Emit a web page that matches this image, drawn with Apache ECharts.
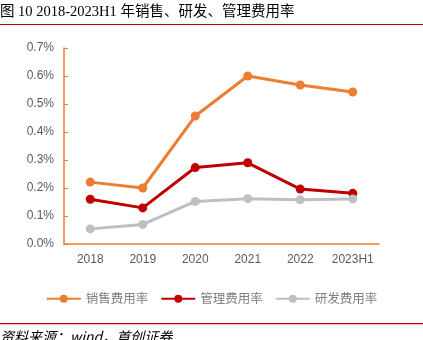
<!DOCTYPE html>
<html><head><meta charset="utf-8">
<script src="https://cdn.jsdelivr.net/npm/echarts@6/dist/echarts.min.js"></script>
<style>html,body{margin:0;padding:0;background:#fff;}#c{width:423px;height:340px;}</style>
</head><body><div id="c"></div>
<script>
var categories = ['2018','2019','2020','2021','2022','2023H1'];
var salesRate = [0.221, 0.200, 0.457, 0.600, 0.568, 0.543];
var adminRate = [0.160, 0.129, 0.273, 0.290, 0.196, 0.181];
var rdRate = [0.054, 0.070, 0.152, 0.162, 0.158, 0.161];
var seriesNames = ['销售费用率','管理费用率','研发费用率'];
var titleText = '图 10 2018-2023H1 年销售、研发、管理费用率';
var sourceText = '资料来源：wind，首创证券';

var chart = echarts.init(document.getElementById('c'));
var colors = ['#ED7D31','#C00000','#BFBFBF'];
function mk(name, data, color){
  return {name:name, type:'line', data:data, symbol:'circle', symbolSize:9,
    lineStyle:{width:3,color:color}, itemStyle:{color:color}};
}
chart.setOption({
  animation:false,
  graphic:[
    {type:'text', left:0, top:5, style:{text:titleText, font:'14.5px "Liberation Serif", "Noto Sans CJK SC"', fill:'#000'}},
    {type:'rect', shape:{x:0,y:24,width:423,height:1}, style:{fill:'#C00000'}},
    {type:'rect', shape:{x:0,y:323,width:423,height:1.2}, style:{fill:'#C00000'}},
    {type:'text', left:0, top:330, style:{text:sourceText, font:'italic 14px "Noto Sans CJK SC", serif', fill:'#000'}}
  ],
  legend:{bottom:30, left:'center', itemWidth:34, itemHeight:10, itemGap:12,
    textStyle:{color:'#7F7F7F', fontSize:12.5, fontFamily:'"Noto Sans CJK SC"'},
    data:seriesNames},
  grid:{left:64, right:44, top:48, bottom:96},
  xAxis:{type:'category', data:categories, boundaryGap:true,
    axisLine:{lineStyle:{color:'#ED7D31',width:1.5}},
    axisTick:{inside:true, length:3, lineStyle:{color:'#ED7D31'}},
    axisLabel:{interval:0, color:'#595959', fontSize:12, margin:10, fontFamily:'Arial, "Liberation Sans"'}},
  yAxis:{type:'value', min:0, max:0.7, interval:0.1,
    axisLine:{show:true, lineStyle:{color:'#ED7D31',width:1.5}},
    axisTick:{show:true, inside:true, length:4, lineStyle:{color:'#ED7D31'}},
    splitLine:{show:false},
    axisLabel:{color:'#595959', fontSize:12, margin:10, fontFamily:'Arial, "Liberation Sans"',
      formatter:function(v){return v.toFixed(1)+'%';}}},
  series:[mk(seriesNames[0], salesRate, colors[0]), mk(seriesNames[1], adminRate, colors[1]), mk(seriesNames[2], rdRate, colors[2])]
});
</script></body></html>
